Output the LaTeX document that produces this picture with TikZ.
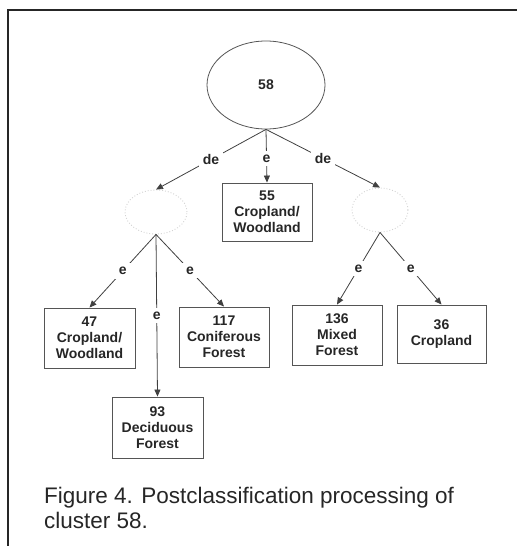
\documentclass[tikz,border=0pt]{standalone}
\usepackage{fontspec}
\setmainfont{Liberation Sans}
\usetikzlibrary{shapes.geometric,arrows.meta}
\definecolor{ink}{HTML}{262626}
\definecolor{boxline}{HTML}{555555}
\definecolor{edgecol}{HTML}{404040}
\tikzset{
  lbl/.style={font=\bfseries\fontsize{14}{16}\selectfont, text=ink},
  leaf/.style={lbl, draw=boxline, line width=0.9pt, rectangle, align=center, inner sep=0pt},
  root/.style={lbl, draw=boxline, line width=0.8pt, ellipse, inner sep=0pt, minimum width=118pt, minimum height=88pt},
  ghost/.style={draw=gray!35, dotted, line width=0.9pt, ellipse, inner sep=0pt},
  edge/.style={draw=edgecol, line width=0.8pt, -{Triangle[length=7pt,width=6pt]}},
  elbl/.style={lbl, fill=white, inner sep=4pt, pos=0.5},
  captxt/.style={font=\fontsize{22.5}{25}\selectfont, text=ink, inner sep=0pt, anchor=base west}
}
\begin{document}
\begin{tikzpicture}[x=1pt,y=-1pt]
\useasboundingbox (0,0) rectangle (517,546);
% frame
\draw[line width=2pt, color=ink] (8,546) -- (8,10) -- (517,10);
% nodes
\node[root] (r) at (266,85) {58};
\node[ghost, minimum width=62pt, minimum height=44pt] (gl) at (156,212) {};
\node[ghost, minimum width=56pt, minimum height=44pt] (gr) at (380,210) {};
\node[leaf, minimum width=90pt, minimum height=58pt] (b55) at (267,212) {55\\Cropland/\\Woodland};
\node[leaf, minimum width=91pt, minimum height=60pt] (b47) at (89.5,338) {47\\Cropland/\\Woodland};
\node[leaf, minimum width=90pt, minimum height=60pt] (b117) at (224,337) {117\\Coniferous\\Forest};
\node[leaf, minimum width=90pt, minimum height=60pt] (b136) at (337,335) {136\\Mixed\\Forest};
\node[leaf, minimum width=89pt, minimum height=58pt] (b36) at (441.5,334) {36\\Cropland};
\node[leaf, minimum width=91pt, minimum height=61pt] (b93) at (157.5,427.5) {93\\Deciduous\\Forest};
% edges
\draw[edge] (r.south) -- node[elbl] {de} (gl.north);
\draw[edge] (r.south) -- node[elbl, pos=0.55] {e} (b55.north);
\draw[edge] (r.south) -- node[elbl] {de} (gr.north);
\draw[edge] (gl.south) -- node[elbl] {e} (b47.north);
\draw[edge] (gl.south) -- node[elbl] {e} (b93.north);
\draw[edge] (gl.south) -- node[elbl] {e} (b117.north);
\draw[edge] (gr.south) -- node[elbl] {e} (b136.north);
\draw[edge] (gr.south) -- node[elbl] {e} (b36.north);
% caption
\node[captxt] (cap1) at (44,503) {Figure 4. Postclassification processing of};
\node[captxt] (cap2) at (44,528) {cluster 58.};
\end{tikzpicture}
\end{document}
